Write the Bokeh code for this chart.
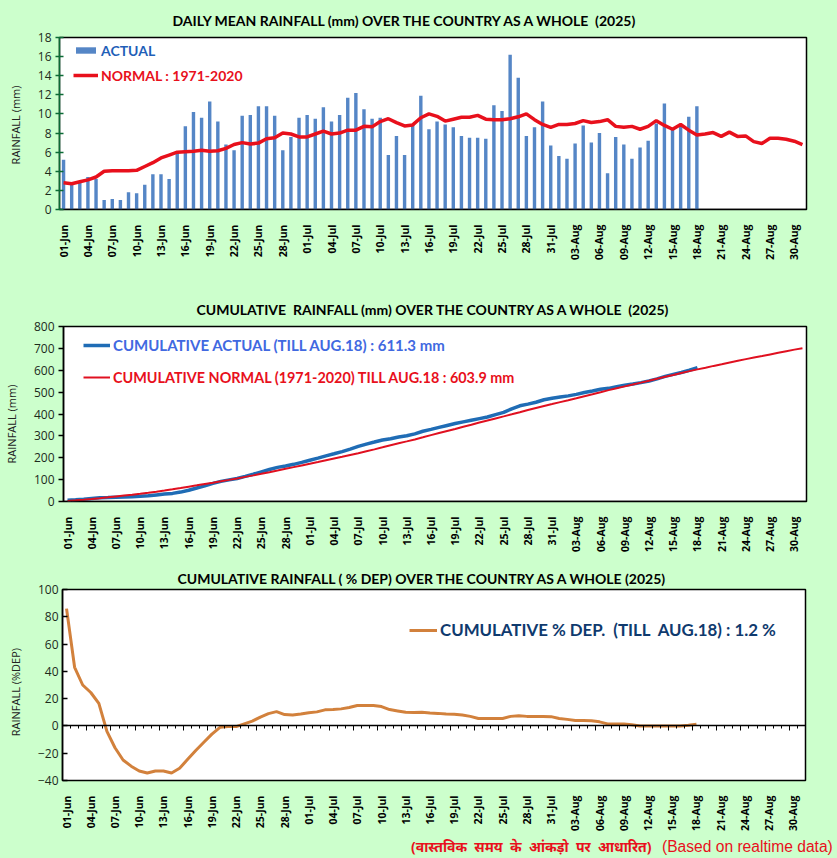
from math import pi
from bokeh.embed import file_html
from bokeh.resources import INLINE
from bokeh.layouts import column
from bokeh.models import (ColumnDataSource, Div, FixedTicker, Legend, LegendItem,
                          LinearAxis, Range1d, Title)
from bokeh.plotting import figure

# ---------------- data ----------------
tick_labels = ["01-Jun","04-Jun","07-Jun","10-Jun","13-Jun","16-Jun","19-Jun","22-Jun","25-Jun","28-Jun",
               "01-Jul","04-Jul","07-Jul","10-Jul","13-Jul","16-Jul","19-Jul","22-Jul","25-Jul","28-Jul","31-Jul",
               "03-Aug","06-Aug","09-Aug","12-Aug","15-Aug","18-Aug","21-Aug","24-Aug","27-Aug","30-Aug"]
n_days = 92

daily_actual = [5.2,2.7,2.8,3.4,3.2,1.0,1.1,1.0,1.8,1.7,2.6,3.7,3.7,3.2,5.9,8.7,10.2,9.6,11.3,9.2,6.8,6.2,9.8,9.9,10.8,10.8,9.8,6.2,7.6,9.6,
                9.9,9.5,10.7,9.2,9.9,11.7,12.2,10.5,9.5,9.6,5.7,7.7,5.7,8.9,11.9,8.4,9.2,8.9,8.6,7.7,7.5,7.5,7.4,10.9,10.3,16.2,13.8,7.7,8.6,11.3,6.7,
                5.6,5.3,6.9,8.8,7.0,8.0,3.8,7.6,6.8,5.3,6.5,7.2,9.0,11.1,8.5,8.9,9.7,10.8]
daily_normal = [2.8,2.7,2.9,3.1,3.4,4.0,4.05,4.05,4.05,4.1,4.5,4.9,5.4,5.7,6.0,6.05,6.1,6.2,6.1,6.15,6.4,6.8,7.0,6.85,6.95,7.4,7.5,8.0,7.9,7.6,
                7.6,7.9,8.2,7.9,8.0,8.3,8.3,8.7,8.65,9.2,9.5,9.1,8.75,8.85,9.6,10.0,9.75,9.25,9.45,9.65,9.65,9.85,9.45,9.4,9.4,9.5,9.7,10.0,9.4,8.9,8.6,
                8.9,8.9,9.0,9.3,9.1,9.2,9.4,8.7,8.6,8.7,8.4,8.7,9.3,8.8,8.4,8.9,8.3,7.8,7.9,8.05,7.65,8.1,7.65,7.7,7.1,6.9,7.45,7.45,7.35,7.15,6.8]
cum_actual = [5.2,7.9,10.7,14.1,17.3,18.3,19.4,20.4,22.2,23.9,26.5,30.2,33.9,37.1,43,51.7,61.9,71.5,82.8,92,98.8,105,114.8,124.7,135.5,146.3,156.1,162.3,169.9,178.7,
              188.6,198.1,208.8,218,227.9,239.6,251.8,262.3,271.8,281.4,287.1,294.8,300.5,309.3,321.2,329.6,338.8,347.7,356.3,364,371.5,379,386.4,397.3,407.6,423.8,437.6,445.3,453.9,465.2,471.9,
              477.5,482.8,489.7,498.5,505.5,513.5,517.3,524.9,531.7,537,543.5,550.7,560.5,572,581,590,600,611.3]
cum_normal = [2.8,5.5,8.4,11.5,14.9,18.9,23,27,31,35.2,39.7,44.6,50,55.7,61.7,67.8,73.9,80.1,86.2,92.4,98.8,105.6,112.6,119.4,126.4,133.8,141.3,149.3,157.2,164.8,
              172.4,180.3,188.5,196.4,204.4,212.7,221,229.7,238.4,247.6,257.1,266.2,274.9,283.8,293.4,303.4,313.1,322.4,331.8,341.5,351.1,361,370.4,379.8,389.2,398.7,408.4,418.4,427.8,436.7,445.3,
              454.2,463.1,472.1,481.4,490.5,499.7,509.1,517.8,526.4,535.1,543.5,552.2,561.5,570.3,578.7,587.6,595.9,603.9,611.8,619.9,627.5,635.6,643.2,650.9,658,664.9,672.4,679.8,687.2,694.3,701]
cum_dep = [86,43,30,24.5,16.5,-4,-16,-25,-29.5,-33,-34.5,-33,-33,-34.5,-31,-24.5,-18,-12,-6,-1,-0.5,-0.5,1.5,3.5,6.5,9,10.5,8.3,8,8.8,
           9.7,10.3,11.8,12,12.5,13.5,15,15,15,14.2,12,11,10,9.8,10,9.5,9.2,8.7,8.5,8,7,5.5,5.4,5.5,5.5,7,7.5,7,6.9,7,6.8,
           5.5,4.8,4,4,3.8,3,1.5,1.5,1.5,0.8,0,0,0,0,0,0,0.5,1.2]

title_1 = "DAILY MEAN RAINFALL (mm) OVER THE COUNTRY AS A WHOLE\u00a0 (2025)"
title_2 = "CUMULATIVE\u00a0 RAINFALL (mm) OVER THE COUNTRY AS A WHOLE\u00a0 (2025)"
title_3 = "CUMULATIVE RAINFALL ( % DEP) OVER THE COUNTRY AS A WHOLE (2025)"
note_hi = "(वास्तविक \u00a0समय \u00a0के \u00a0आंकड़ो \u00a0पर \u00a0आधारित)"
note_en = "(Based on realtime data)"

# ---------------- styling ----------------
BG = "#CCFFCC"
TITLE_FONT = "Lato"
TICK_FONT = "Open Sans"
x_idx = list(range(n_days))
label_pos = list(range(0, n_days, 3))
major_marks = [i - 0.5 for i in range(0, n_days + 1, 3)]
minor_marks = [i - 0.5 for i in range(0, n_days + 1)]


def make_fig(title, title_off, title_size, title_standoff, ymin, ymax, yticks, ylabel, left, top, fw, fh,
             bottom, tick_in, tick_out, yaxis_color, label_standoff):
    p = figure(frame_width=fw, frame_height=fh, x_range=Range1d(-0.5, n_days - 0.5),
               y_range=Range1d(ymin, ymax), output_backend="svg", toolbar_location=None,
               x_axis_location=None, y_axis_location=None, frame_align=False,
               min_border_left=left, min_border_right=837 - left - fw, min_border_top=top,
               min_border_bottom=bottom, background_fill_color="white", border_fill_color=BG,
               outline_line_color="black", outline_line_width=1.5)
    p.grid.visible = False
    p.title = Title(text=title, align="left", offset=title_off, text_font=TITLE_FONT,
                    text_font_size=title_size, text_font_style="bold", text_color="black",
                    standoff=title_standoff)
    ya = LinearAxis(ticker=FixedTicker(ticks=yticks), axis_label=ylabel,
                    axis_label_text_font=TICK_FONT, axis_label_text_font_size="11px",
                    axis_label_text_font_style="normal", axis_label_text_color="#222222",
                    axis_label_standoff=label_standoff, major_label_text_font=TICK_FONT,
                    major_label_text_font_size="12px", major_label_text_color="#1C2B1C",
                    major_tick_in=tick_in, major_tick_out=tick_out, minor_tick_line_color=None,
                    axis_line_color=yaxis_color, major_tick_line_color=yaxis_color,
                    axis_line_width=1.5, major_tick_line_width=1.5, major_label_standoff=4)
    p.add_layout(ya, "left")
    xa = LinearAxis(ticker=FixedTicker(ticks=label_pos),
                    major_label_overrides=dict(zip(label_pos, tick_labels)),
                    major_label_orientation=pi / 2, major_label_text_font=TICK_FONT,
                    major_label_text_font_size="10.5px", major_label_text_font_style="bold",
                    major_label_text_color="black", major_label_standoff=9,
                    axis_line_color=None, major_tick_line_color=None, minor_tick_line_color=None)
    p.add_layout(xa, "below")
    ta = LinearAxis(ticker=FixedTicker(ticks=major_marks, minor_ticks=minor_marks),
                    fixed_location=0 if ymin < 0 else ymin,
                    major_label_overrides={t: "" for t in major_marks},
                    major_tick_in=0, major_tick_out=5, minor_tick_in=0, minor_tick_out=3,
                    axis_line_color="black", major_tick_line_color="black",
                    minor_tick_line_color="black", axis_line_width=1.5)
    p.add_layout(ta, "below")
    return p


def add_key(p, renderer, text, color, x, yc, fh, size, gw, gh):
    h = 18
    lg = Legend(items=[LegendItem(label=text, renderers=[renderer])],
                location=(x, fh - yc - h / 2), border_line_color=None,
                background_fill_alpha=0, padding=0, margin=0, spacing=0, label_standoff=3,
                glyph_width=gw, glyph_height=gh, label_height=h,
                label_text_font=TITLE_FONT, label_text_font_size=size,
                label_text_font_style="bold", label_text_color=color)
    p.add_layout(lg, "center")


# ---------------- chart 1 ----------------
p1 = make_fig(title_1, 113, "14px", 18, 0, 18, list(range(0, 19, 2)), "RAINFALL  (mm)", 59, 37, 747, 172, 81,
              4, 4, "#0B6B35", 12)
s_a1 = ColumnDataSource(dict(x=x_idx[:len(daily_actual)], y=daily_actual))
s_n1 = ColumnDataSource(dict(x=x_idx, y=daily_normal))
b1 = p1.vbar(x="x", top="y", width=0.42, source=s_a1, fill_color="#5586C6", line_color=None)
l1 = p1.line(x="x", y="y", source=s_n1, line_color="#E8101C", line_width=3.5)
add_key(p1, b1, "ACTUAL", "#1F5FB8", 14, 13, 172, "14px", 25, 8)
add_key(p1, l1, "NORMAL : 1971-2020", "#E8101C", 14, 38, 172, "14px", 25, 8)

# ---------------- chart 2 ----------------
p2 = make_fig(title_2, 133, "14px", 17, 0, 800, list(range(0, 801, 100)),
              "RAINFALL  (mm)" + "\u00a0" * 6, 63, 36, 743, 175, 64,
              0, 5, "black", 12)
s_a2 = ColumnDataSource(dict(x=x_idx[:len(cum_actual)], y=cum_actual))
s_n2 = ColumnDataSource(dict(x=x_idx, y=cum_normal))
l2a = p2.line(x="x", y="y", source=s_a2, line_color="#1F6CB5", line_width=3.5)
l2n = p2.line(x="x", y="y", source=s_n2, line_color="#E01020", line_width=2)
add_key(p2, l2a, "CUMULATIVE ACTUAL (TILL AUG.18) : 611.3 mm", "#4169E1", 20, 19, 175, "15px", 27, 8)
add_key(p2, l2n, "CUMULATIVE NORMAL (1971-2020) TILL AUG.18 : 603.9 mm", "#E8101C", 20, 51, 175, "14.4px", 27, 8)

# ---------------- chart 3 ----------------
p3 = make_fig(title_3, 115, "14px", 5, -40, 100, list(range(-40, 101, 20)),
              "RAINFALL  (%DEP)" + "\u00a0" * 4, 62, 24, 743, 191, 57,
              5, 0, "black", 12)
s_d3 = ColumnDataSource(dict(x=x_idx[:len(cum_dep)], y=cum_dep))
l3 = p3.line(x="x", y="y", source=s_d3, line_color="#D2813C", line_width=3)
add_key(p3, l3, "CUMULATIVE % DEP.  (TILL  AUG.18) : 1.2 %", "#0F3A6E", 347, 42, 191, "16.85px", 28, 8)

note = Div(text=(f"<span style=\"display:inline-block;width:251px;font:bold 14px 'Noto Sans',sans-serif\">{note_hi}</span>"
                 f"<span style=\"font:15.6px 'Liberation Sans',sans-serif\">{note_en}</span>"),
           width=426, height=21, margin=(0, 0, 0, 411),
           styles={"color": "#E8101C", "white-space": "nowrap", "line-height": "16px"})

page = column(p1, p2, p3, note, spacing=0, styles={"background-color": BG})

open("out.html", "w").write(file_html(page, INLINE))
